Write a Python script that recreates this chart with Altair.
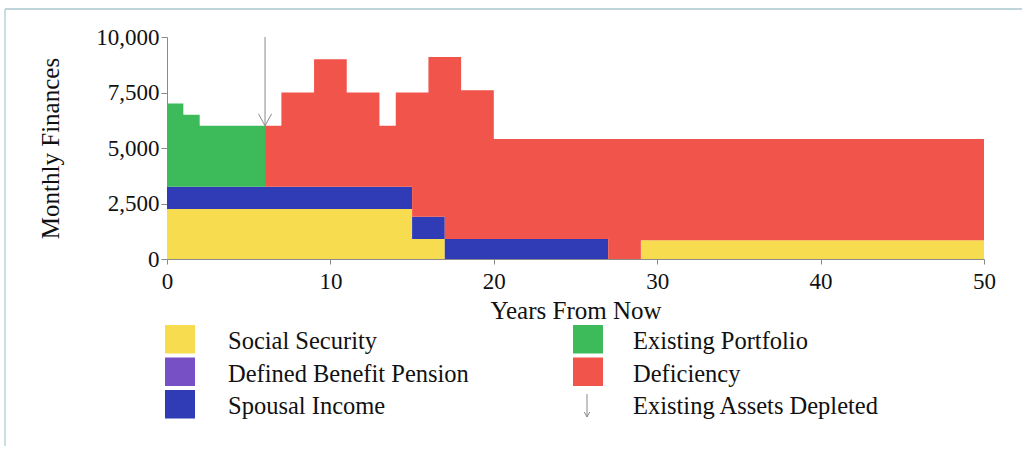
import altair as alt
import pandas as pd

# ---------------- data ----------------
years = list(range(0, 51))  # yearly step edges 0..50
categories = ["Social Security", "Defined Benefit Pension", "Spousal Income",
              "Existing Portfolio", "Deficiency"]
colors = ["#F6DC4E", "#7650C4", "#2F3CB5", "#3DBB5A", "#F1544A"]

# monthly amounts for years 0..49
social_security = [2250] * 15 + [900] * 2 + [0] * 12 + [850] * 21
pension = [0] * 50
spousal = [1000] * 17 + [900] * 10 + [0] * 23
portfolio = [3750, 3250] + [2750] * 4 + [0] * 44
deficiency = ([0] * 6 + [2750] + [4250] * 2 + [5750] * 2 + [4250] * 2 + [2750]
              + [4250] + [5600] + [7200] + [8200] + [6700] * 2 + [4500] * 7
              + [5400] * 2 + [4550] * 21)
series = [social_security, pension, spousal, portfolio, deficiency]

depleted_year = [6]
arrow_top = [10000]
arrow_bottom = [6000]

x_ticks = [0, 10, 20, 30, 40, 50]
y_ticks = [0, 2500, 5000, 7500, 10000]
arrow_legend_label = "Existing Assets Depleted"

# ---------------- build tables ----------------
rows = []
for k, (cat, vals) in enumerate(zip(categories, series)):
    ext = vals + [vals[-1]]  # carry last step to year 50
    for yr, v in zip(years, ext):
        rows.append({"year": yr, "category": cat, "value": v, "order": k})
df = pd.DataFrame(rows)
df_arrow = pd.DataFrame({"year": depleted_year, "top": arrow_top, "bottom": arrow_bottom})
one = pd.DataFrame({"d": [0]})

W, H = 817, 222
FONT = "Liberation Serif"
INK = "#111111"
GRAY = "#8a8a8a"

x_enc = alt.X("year:Q", scale=alt.Scale(domain=[0, 50], nice=False),
              axis=alt.Axis(values=x_ticks, title="Years From Now", grid=False,
                            labelFont=FONT, labelFontSize=23, labelColor=INK,
                            labelFlush=False, labelOverlap=False, labelPadding=6,
                            tickSize=5, tickColor=GRAY, domainColor=GRAY,
                            titleFont=FONT, titleFontSize=25, titleFontWeight="normal",
                            titleColor=INK, titleY=51, titleBaseline="middle"))
y_enc = alt.Y("value:Q", stack="zero", scale=alt.Scale(domain=[0, 10000], nice=False),
              axis=alt.Axis(values=y_ticks, format=",.0f", title="Monthly Finances", grid=False,
                            labelFont=FONT, labelFontSize=23, labelColor=INK,
                            labelPadding=2, tickSize=6, tickColor=GRAY, domainColor=GRAY,
                            titleFont=FONT, titleFontSize=25, titleFontWeight="normal",
                            titleColor=INK, titleX=-117, titleY=H / 2, titleAngle=270,
                            titleAlign="center", titleBaseline="middle"))

areas = alt.Chart(df).mark_area(interpolate="step-after").encode(
    x=x_enc,
    y=y_enc,
    color=alt.Color("category:N", scale=alt.Scale(domain=categories, range=colors), legend=None),
    order=alt.Order("order:Q", sort="ascending"),
)

rule = alt.Chart(df_arrow).mark_rule(color=GRAY, strokeWidth=1).encode(
    x="year:Q", y="top:Q", y2="bottom:Q")
head = alt.Chart(df_arrow).mark_point(shape="M-0.55,-1L0,0L0.55,-1", filled=False,
                                      size=576, color=GRAY, strokeWidth=1, opacity=1).encode(
    x="year:Q", y="bottom:Q")

layers = [areas, rule, head]

# ---------------- manual legend (two columns, three rows) ----------------
sw_x = [-2, 406]
lab_x = [61, 466]
row_gap = 32.5
for i, cat in enumerate(categories):
    col, r = (0, i) if i < 3 else (1, i - 3)
    y0 = 288 + r * row_gap
    layers.append(alt.Chart(one).mark_rect(color=colors[i]).encode(
        x=alt.value(sw_x[col]), x2=alt.value(sw_x[col] + 30),
        y=alt.value(y0), y2=alt.value(y0 + 28.5)))
    layers.append(alt.Chart(one).mark_text(text=cat, align="left", baseline="middle",
                                           font=FONT, fontSize=24.5, color=INK).encode(
        x=alt.value(lab_x[col]), y=alt.value(305 + r * row_gap)))

# arrow legend item
ay = 288 + 2 * row_gap
layers.append(alt.Chart(one).mark_rule(color=GRAY, strokeWidth=1).encode(
    x=alt.value(sw_x[1] + 14), y=alt.value(ay + 4), y2=alt.value(ay + 27)))
layers.append(alt.Chart(one).mark_point(shape="M-0.55,-1L0,0L0.55,-1", filled=False,
                                        size=100, color=GRAY, strokeWidth=1, opacity=1).encode(
    x=alt.value(sw_x[1] + 14), y=alt.value(ay + 27)))
layers.append(alt.Chart(one).mark_text(text=arrow_legend_label, align="left", baseline="middle",
                                       font=FONT, fontSize=24.5, color=INK).encode(
    x=alt.value(lab_x[1]), y=alt.value(305 + 2 * row_gap)))

# faint scan frame (top and left edges)
layers.append(alt.Chart(one).mark_rule(color="#a9c9cf", strokeWidth=1.5).encode(
    x=alt.value(-162), x2=alt.value(855), y=alt.value(-28)))
layers.append(alt.Chart(one).mark_rule(color="#b9d3d8", strokeWidth=1.5).encode(
    x=alt.value(-162), y=alt.value(-28), y2=alt.value(409)))

chart = alt.layer(*layers).properties(
    width=W, height=H,
    autosize=alt.AutoSizeParams(type="none"),
    padding={"left": 167, "top": 37, "right": 45, "bottom": 191},
    background="white",
).configure_view(strokeWidth=0)

chart.save("out.html", embed_options={"renderer": "svg", "actions": False})
